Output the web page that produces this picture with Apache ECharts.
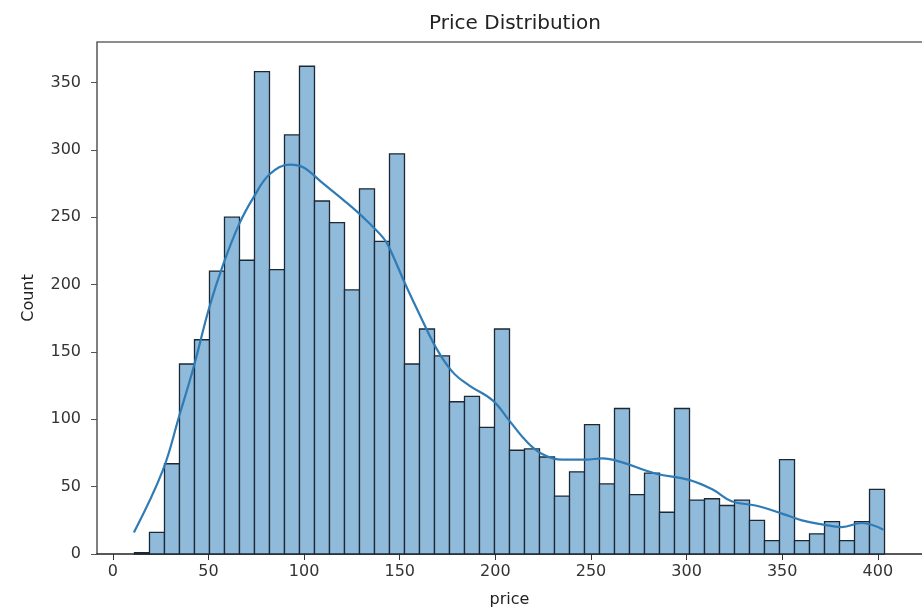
<!DOCTYPE html>
<html>
<head>
<meta charset="utf-8">
<script src="https://cdn.jsdelivr.net/npm/echarts@6/dist/echarts.min.js"></script>
<style>
  html, body { margin: 0; padding: 0; background: #fff; }
  #chart { width: 922px; height: 614px; }
</style>
</head>
<body>
<div id="chart"></div>
<script>
// histogram bins: 50 bins from binLo with width binWidth
var binLo = 11.3;
var binWidth = 7.844;
var counts = [1, 16, 67, 141, 159, 210, 250, 218, 358, 211,
              311, 362, 262, 246, 196, 271, 232, 297, 141, 167,
              147, 113, 117, 94, 167, 77, 78, 72, 43, 61,
              96, 52, 108, 44, 60, 31, 108, 40, 41, 36,
              40, 25, 10, 70, 10, 15, 24, 10, 24, 48];

// kde curve
var kdeX = [11, 26.1, 34.8, 42.1, 50.4, 57.7, 66.1, 73.7, 82.1, 92.5,
            99.5, 109.9, 120.3, 130.8, 141.2, 144.3, 153, 160.3, 169, 177.7,
            186.4, 198.6, 207.3, 216, 224.7, 235.1, 247.3, 256, 266.4, 278.6,
            285.6, 301.2, 313.4, 323.8, 336, 349.9, 360.3, 370.8, 381.2, 391.6, 402.9];
var kdeY = [16, 62, 103, 138, 183, 215, 245, 265, 282, 289,
            287, 275, 263, 250, 235, 228, 200, 178, 153, 135,
            125, 114, 99, 84, 74, 70, 70, 71, 68, 62,
            59, 55, 48, 39, 36, 30, 25, 22, 20, 23, 18];

var xTicks = [0, 50, 100, 150, 200, 250, 300, 350, 400];
var yTicks = [0, 50, 100, 150, 200, 250, 300, 350];

var bins = counts.map(function (c, i) {
  return [binLo + i * binWidth, binLo + (i + 1) * binWidth, c];
});
var kde = kdeX.map(function (x, i) { return [x, kdeY[i]]; });

var font = 'DejaVu Sans';
var chart = echarts.init(document.getElementById('chart'));
chart.setOption({
  animation: false,
  title: {
    text: 'Price Distribution',
    left: 510, textAlign: 'center',
    top: 9,
    textStyle: { fontFamily: font, fontSize: 20, fontWeight: 'normal', color: '#222' }
  },
  grid: { left: 97, right: -2, top: 42, bottom: 60 },
  xAxis: {
    type: 'value',
    min: -8.3, max: 423.1,
    name: 'price', nameLocation: 'middle', nameGap: 38,
    nameTextStyle: { fontFamily: font, fontSize: 16, color: '#222' },
    axisLine: { onZero: false, lineStyle: { color: '#222', width: 1.5 } },
    axisTick: { show: true, length: 6, customValues: xTicks, lineStyle: { color: '#333' } },
    axisLabel: { customValues: xTicks, fontFamily: font, fontSize: 16, color: '#333', margin: 10 },
    splitLine: { show: false }
  },
  yAxis: {
    type: 'value',
    min: 0, max: 380,
    name: 'Count', nameLocation: 'middle', nameGap: 60,
    nameTextStyle: { fontFamily: font, fontSize: 16, color: '#222' },
    axisLine: { show: true, onZero: false, lineStyle: { color: '#555', width: 1.5 } },
    axisTick: { show: true, length: 6, customValues: yTicks, lineStyle: { color: '#555' } },
    axisLabel: { customValues: yTicks, fontFamily: font, fontSize: 16, color: '#333', margin: 16 },
    splitLine: { show: false }
  },
  series: [
    {
      type: 'custom',
      data: bins,
      encode: { x: [0, 1], y: 2 },
      renderItem: function (params, api) {
        var p0 = api.coord([api.value(0), 0]);
        var p1 = api.coord([api.value(1), api.value(2)]);
        return {
          type: 'rect',
          shape: { x: p0[0], y: p1[1], width: p1[0] - p0[0], height: p0[1] - p1[1] },
          style: { fill: '#8fbada', stroke: '#1c2836', lineWidth: 1.3 }
        };
      }
    },
    {
      type: 'line',
      data: kde,
      smooth: 0.4,
      showSymbol: false,
      z: 5,
      lineStyle: { color: '#2f7bb6', width: 2.2 }
    }
  ]
});
// top spine drawn along the grid's upper edge
var topY = chart.convertToPixel({ gridIndex: 0 }, [0, 380])[1];
chart.setOption({
  graphic: [{
    type: 'line',
    shape: { x1: 97, y1: topY, x2: 922, y2: topY },
    style: { stroke: '#666', lineWidth: 1.5 }
  }]
});
</script>
</body>
</html>
